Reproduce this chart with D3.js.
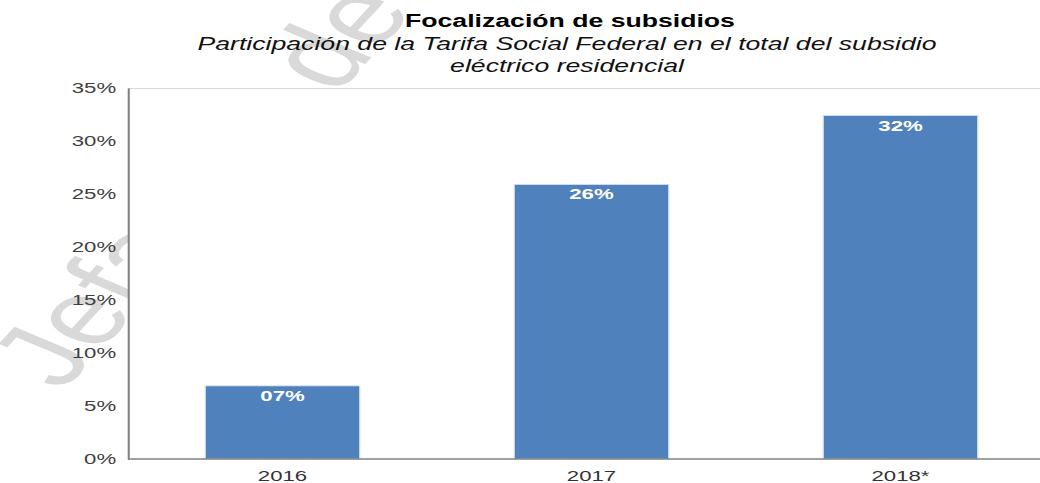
<!DOCTYPE html>
<html>
<head>
<meta charset="utf-8">
<script src="https://cdn.jsdelivr.net/npm/d3@7"></script>
<style>
  html, body { margin: 0; padding: 0; background: #fff; }
  svg { display: block; }
  text { font-family: "Liberation Sans", Arial, sans-serif; }
</style>
</head>
<body>
<div id="chart"></div>
<script>
// ---- data ----
const categories = ["2016", "2017", "2018*"];
const values = [0.069, 0.259, 0.324];
const barLabels = ["07%", "26%", "32%"];
const yTicks = [0, 0.05, 0.10, 0.15, 0.20, 0.25, 0.30, 0.35];
const yTickLabels = ["0%", "5%", "10%", "15%", "20%", "25%", "30%", "35%"];
const title = "Focalización de subsidios";
const subtitleLines = ["Participación de la Tarifa Social Federal en el total del subsidio", "eléctrico residencial"];
const watermark = "Jefatura de Gabinete de Ministros";

// ---- layout (picture is horizontally stretched) ----
const W = 1040, H = 483, SX = 1.48;
const VBW = W / SX;
const plotLeft = 128 / SX, plotRight = VBW, bandRight = 1055 / SX;
const plotTop = 88, plotBottom = 459;

const svg = d3.select("#chart").append("svg")
  .attr("width", W).attr("height", H)
  .attr("viewBox", `0 0 ${VBW} ${H}`)
  .attr("preserveAspectRatio", "none");

// watermark (behind everything)
svg.append("text")
  .attr("transform", "translate(42,392) rotate(-58)")
  .attr("font-size", 90)
  .attr("fill", "#d9d9d9")
  .text(watermark);

// plot area background covers watermark
svg.append("rect")
  .attr("x", plotLeft).attr("y", plotTop)
  .attr("width", plotRight - plotLeft).attr("height", plotBottom - plotTop)
  .attr("fill", "#fff");

// top border
svg.append("line")
  .attr("x1", plotLeft).attr("x2", plotRight)
  .attr("y1", plotTop + 0.5).attr("y2", plotTop + 0.5)
  .attr("stroke", "#d9d9d9").attr("stroke-width", 1.2);

const x = d3.scaleBand().domain(categories).range([plotLeft, bandRight])
  .paddingInner(0.5).paddingOuter(0.25);
const y = d3.scaleLinear().domain([0, 0.35]).range([plotBottom, plotTop]);

// bars
svg.append("g").selectAll("rect").data(categories).join("rect")
  .attr("x", d => x(d))
  .attr("y", (d, i) => y(values[i]))
  .attr("width", x.bandwidth())
  .attr("height", (d, i) => y(0) - y(values[i]))
  .attr("fill", "#4f81bd")
  .attr("stroke", "#d6e2f0").attr("stroke-width", 0.8);

// bar labels
svg.append("g").selectAll("text").data(categories).join("text")
  .attr("x", d => x(d) + x.bandwidth() / 2)
  .attr("y", (d, i) => y(values[i]) + 15)
  .attr("text-anchor", "middle")
  .attr("font-size", 15).attr("font-weight", "bold")
  .attr("fill", "#fff")
  .text((d, i) => barLabels[i]);

// y axis
const yAxis = svg.append("g")
  .attr("transform", `translate(${plotLeft},0)`)
  .call(d3.axisLeft(y).tickValues(yTicks)
    .tickFormat((d, i) => yTickLabels[i]).tickSize(0).tickPadding(8));
yAxis.select(".domain").attr("stroke", "#808080").attr("stroke-width", 1.4);
yAxis.selectAll("text").attr("font-size", 15).attr("fill", "#404040")
  .attr("font-family", "Liberation Sans, Arial, sans-serif");

// x axis
const xAxis = svg.append("g")
  .attr("transform", `translate(0,${plotBottom})`)
  .call(d3.axisBottom(x).tickSize(0).tickPadding(11));
xAxis.select(".domain").attr("d", `M${plotLeft},0H${plotRight}`)
  .attr("stroke", "#808080").attr("stroke-width", 1.5);
xAxis.selectAll("text").attr("font-size", 15).attr("fill", "#333")
  .attr("font-family", "Liberation Sans, Arial, sans-serif");

// titles
const cx = 567 / SX;
svg.append("text")
  .attr("x", 570 / SX).attr("y", 27)
  .attr("text-anchor", "middle")
  .attr("font-size", 18).attr("font-weight", "bold").attr("fill", "#000")
  .text(title);
svg.append("g").selectAll("text").data(subtitleLines).join("text")
  .attr("x", cx).attr("y", (d, i) => 50 + i * 22)
  .attr("text-anchor", "middle")
  .attr("font-size", 18).attr("font-style", "italic").attr("fill", "#111")
  .text(d => d);
</script>
</body>
</html>
